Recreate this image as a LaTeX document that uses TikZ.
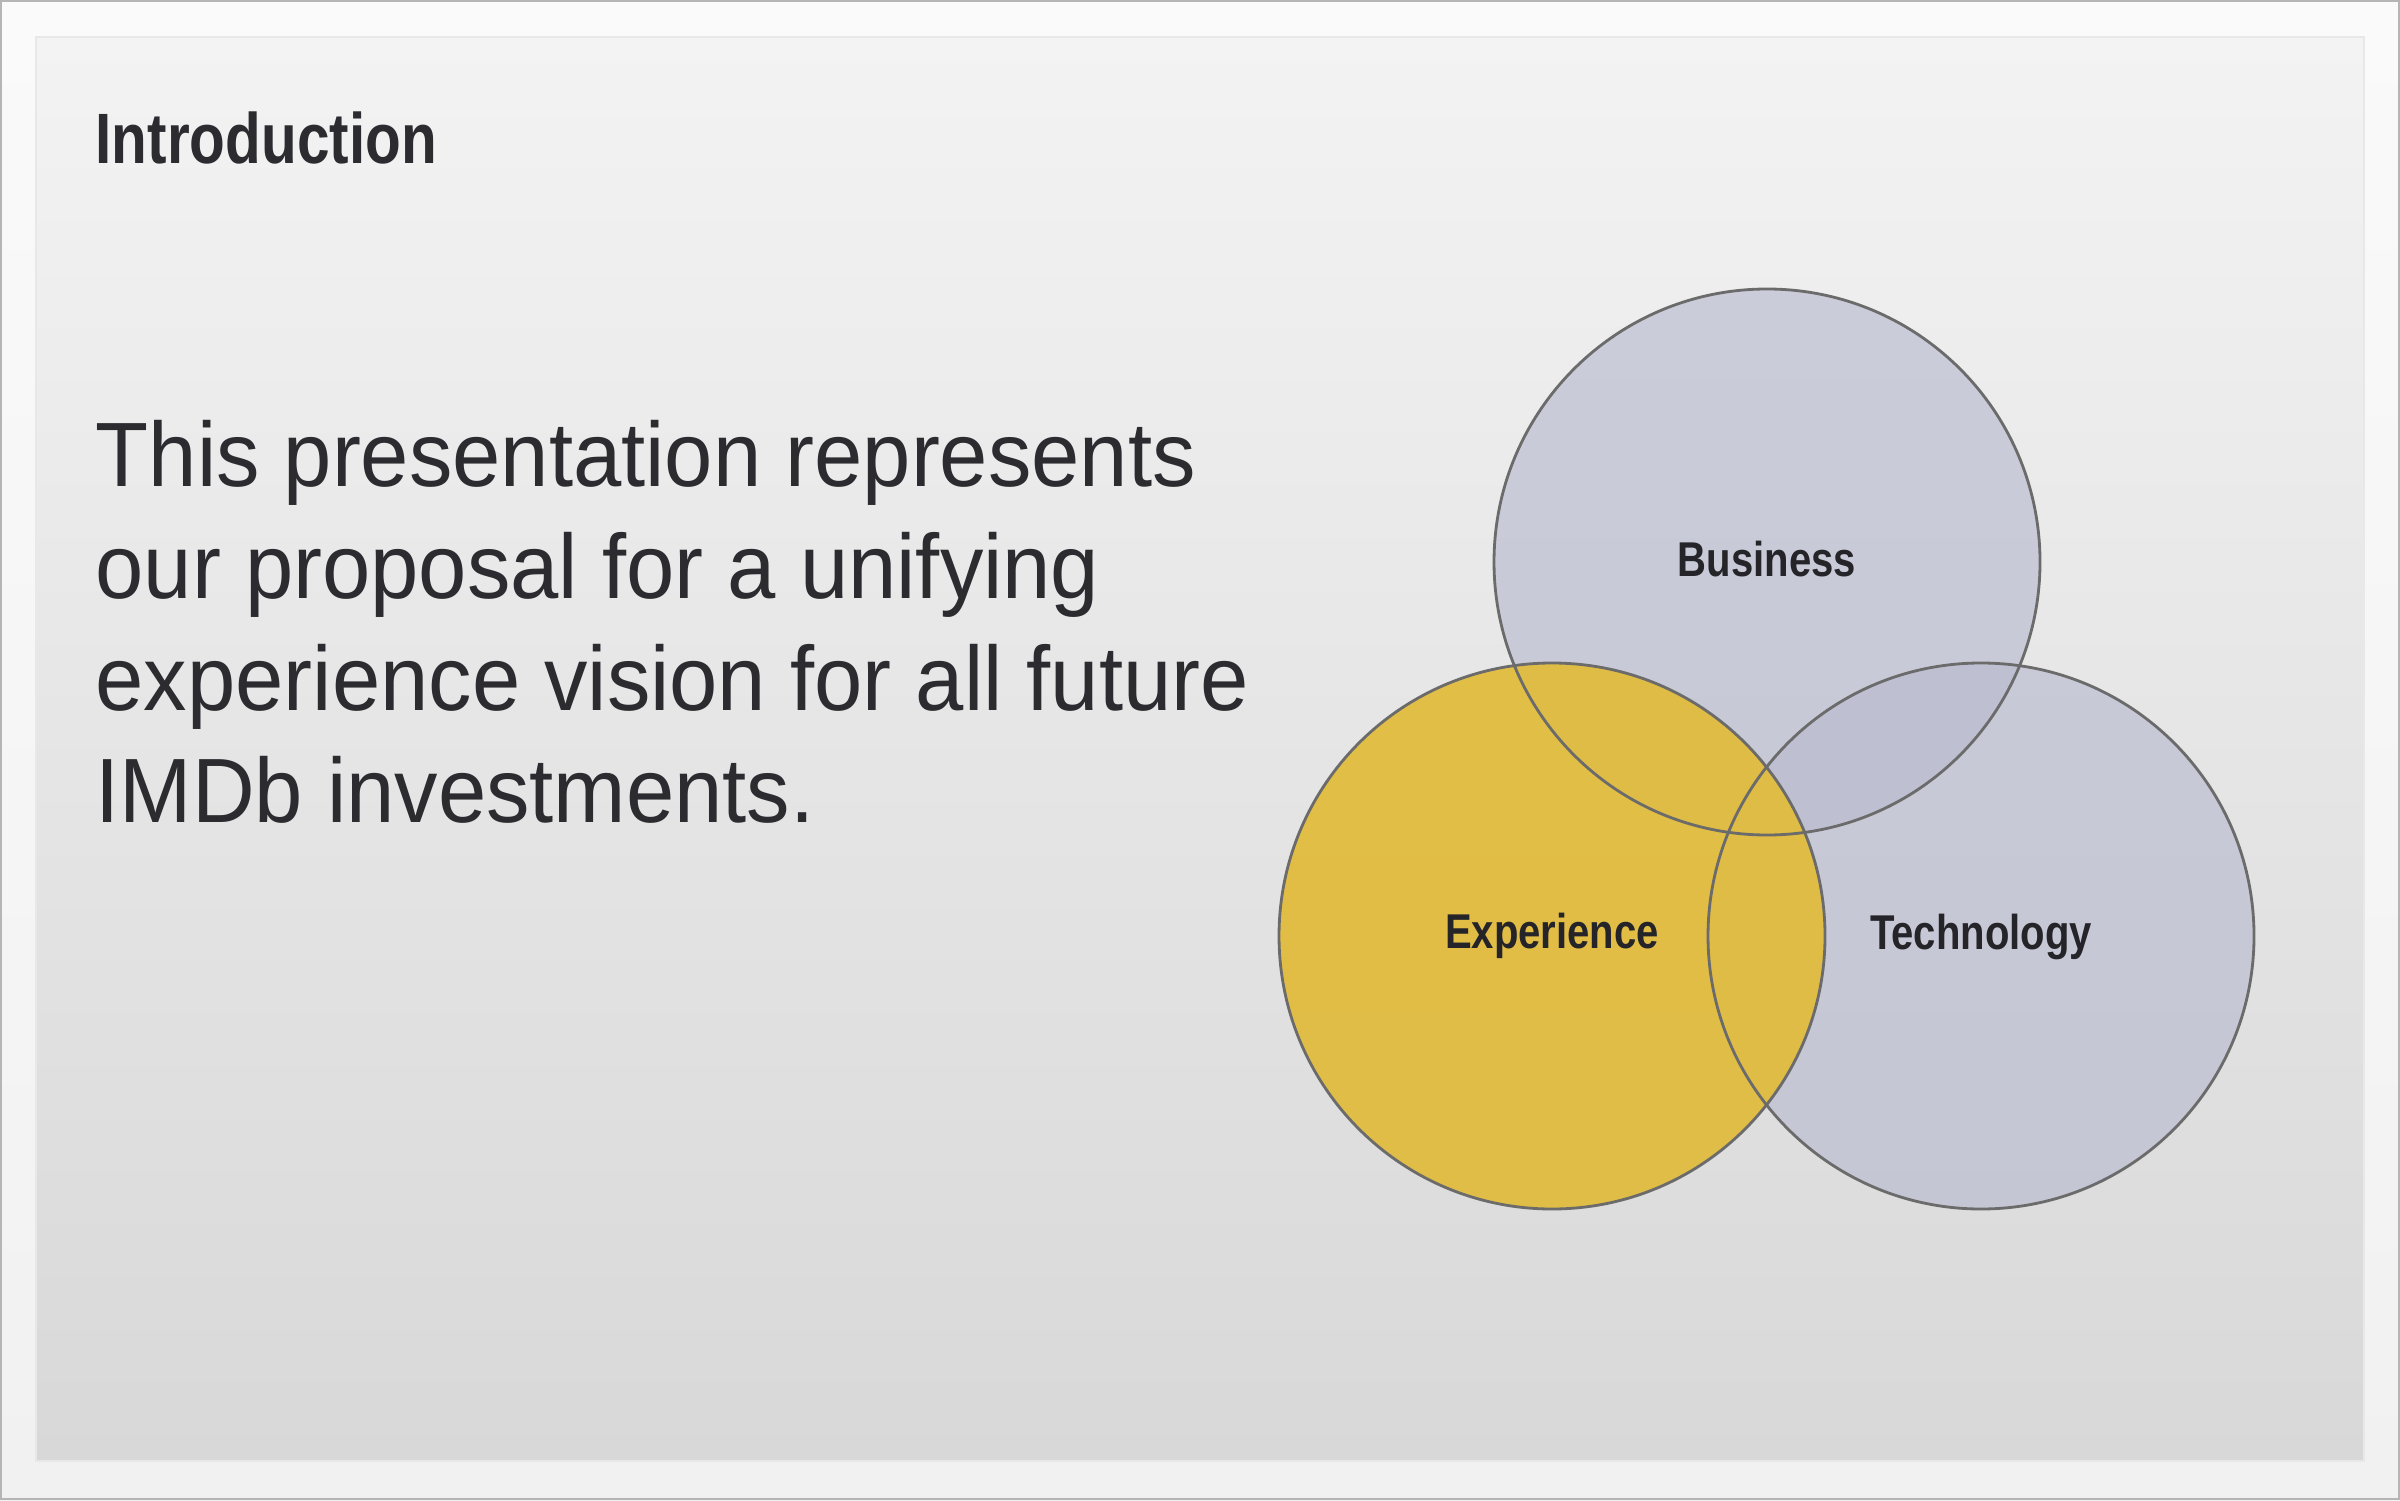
\documentclass[tikz,border=0pt]{standalone}
\usepackage{fontspec}
\usetikzlibrary{calc}
\newfontfamily\headfont[FakeStretch=0.82]{Liberation Sans}
\newfontfamily\bodyfont[FakeStretch=0.95]{Liberation Sans}
\definecolor{frametop}{HTML}{FAFAFA}
\definecolor{framebottom}{HTML}{F1F1F1}
\definecolor{frameedge}{HTML}{B5B5B5}
\definecolor{slidetop}{HTML}{F3F3F3}
\definecolor{slidebottom}{HTML}{D8D8D8}
\definecolor{vennblue}{HTML}{BABCD0}
\definecolor{vennyellow}{HTML}{E1BC3E}
\definecolor{vennedge}{HTML}{6B6B6B}
\definecolor{inktext}{HTML}{2B2B30}
\tikzset{
  headline/.style={
    anchor=base west,
    inner sep=0pt,
    text=inktext,
    font=\headfont\bfseries\fontsize{20.3}{24}\selectfont
  },
  bodyline/.style={
    anchor=base west,
    inner sep=0pt,
    text=inktext,
    font=\bodyfont\fontsize{26}{31.9}\selectfont
  },
  vennlabel/.style={
    anchor=base,
    inner sep=0pt,
    text=inktext!85!black,
    font=\headfont\bfseries\fontsize{13.9}{16}\selectfont
  },
  vennfill/.style={
    fill opacity=0.67,
    fill=vennblue
  },
  vennline/.style={
    draw=vennedge,
    line width=0.8pt
  }
}

\begin{document}
\begin{tikzpicture}

    \useasboundingbox (0,0) rectangle (24,15);

    % 背景
    \shade[top color=frametop,bottom color=framebottom] (0,0) rectangle (24,15);
    \draw[frameedge,line width=0.6pt] (0.01,0.01) rectangle (23.99,14.99);
    \shade[top color=slidetop,bottom color=slidebottom,draw=black!9,line width=0.4pt]
        (0.36,0.39) rectangle (23.64,14.63);

    % 見出し
    \node[headline] (title) at (0.95,13.36) {Introduction};

    % 本文
    \node[bodyline] (line1) at (0.95,10.14) {This presentation represents};
    \node[bodyline] (line2) at (0.95,9.02) {our proposal for a unifying};
    \node[bodyline] (line3) at (0.95,7.90) {experience vision for all future};
    \node[bodyline] (line4) at (0.95,6.78) {IMDb investments.};

    % 円の中心
    \coordinate (business) at (17.67,9.38);
    \coordinate (technology) at (19.81,5.64);
    \coordinate (experience) at (15.52,5.64);

    % 円
    \fill[vennfill] (business) circle (2.73);
    \fill[vennfill] (technology) circle (2.73);
    \fill[fill=vennyellow,fill opacity=0.95] (experience) circle (2.73);

    \draw[vennline] (business) circle (2.73);
    \draw[vennline] (technology) circle (2.73);
    \draw[vennline] (experience) circle (2.73);

    % ラベル
    \node[vennlabel] (businesslabel) at ($(business)+(0,-0.14)$) {Business};
    \node[vennlabel] (technologylabel) at ($(technology)+(0,-0.13)$) {Technology};
    \node[vennlabel] (experiencelabel) at ($(experience)+(0,-0.12)$) {Experience};

\end{tikzpicture}
\end{document}
